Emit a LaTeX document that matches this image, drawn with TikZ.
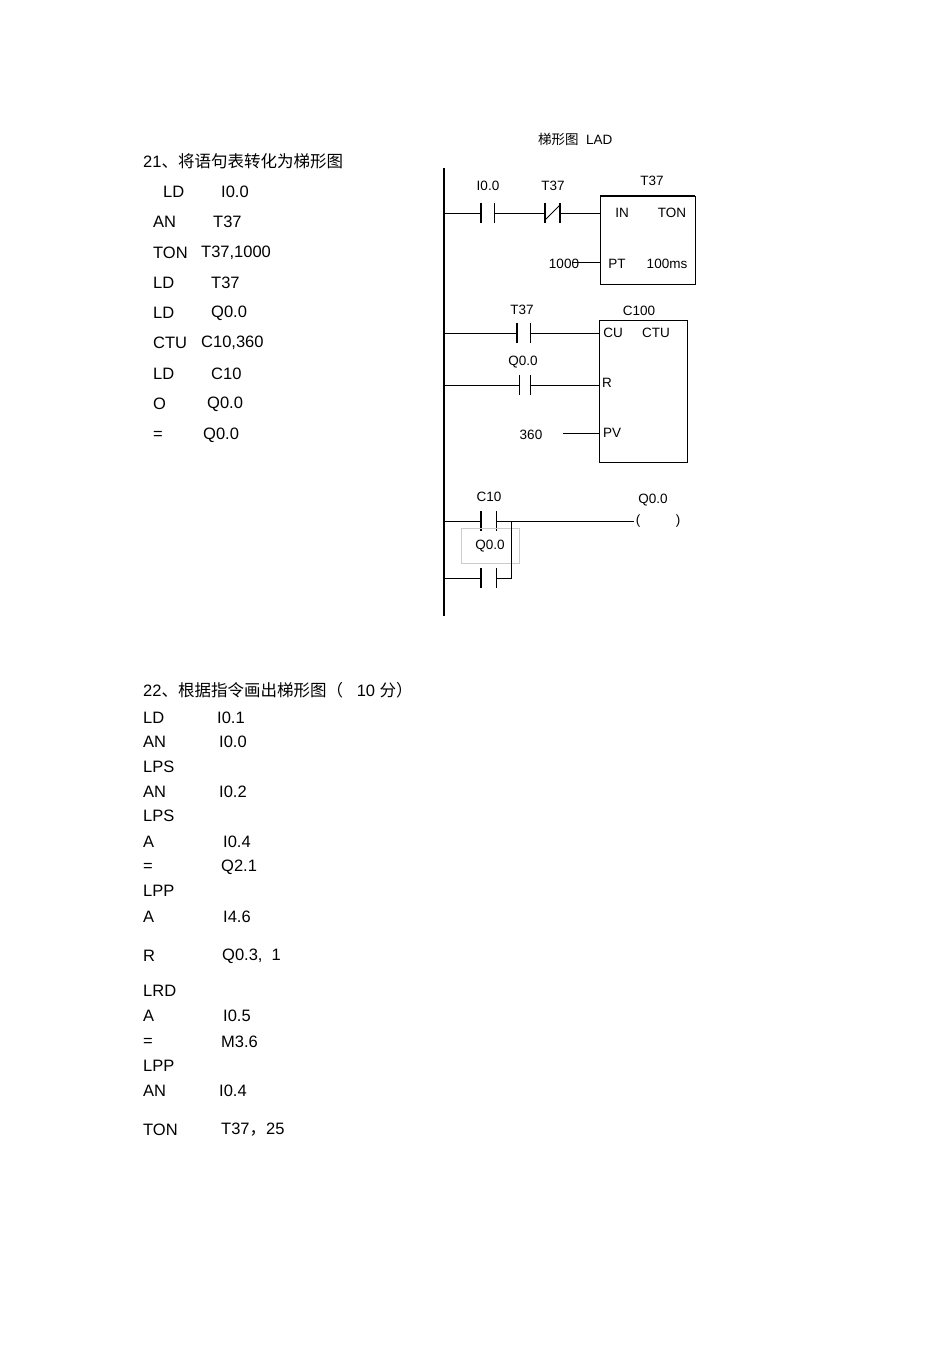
\documentclass[tikz,border=0pt]{standalone}
\usepackage{fontspec}
\setmainfont{Liberation Sans}
\newfontfamily\cjk{Noto Sans CJK SC}
\begin{document}
\begin{tikzpicture}[x=1pt,y=-1pt,
  t/.style={anchor=west,inner sep=0pt,font=\fontsize{16.5}{18}\selectfont},
  s/.style={inner sep=0pt,font=\fontsize{13.5}{15}\selectfont},
  w/.style={line width=0.8pt},
  tb/.style={line width=1.8pt}]
\useasboundingbox (0,0) rectangle (950,1345);
% left text 21
\node[t] (h21) at (143,161) {21{\cjk 、将语句表转化为梯形图}};
\foreach \m/\mx/\o/\ox/\y in {LD/163/I0.0/221/192, AN/153/T37/213/222, TON/153/{T37,1000}/201/253, LD/153/T37/211/283, LD/153/Q0.0/211/313, CTU/153/{C10,360}/201/343, LD/153/C10/211/374, O/153/Q0.0/207/404, =/153/Q0.0/203/435}
  {\node[t] at (\mx,\y) {\m}; \node[t] at (\ox,\y) {\o};}
\node[s,anchor=west] (lad) at (538,139) {{\cjk 梯形图}\ \ LAD};
% rail
\coordinate (rt) at (444,168); \coordinate (rb) at (444,616);
\draw[line width=1.1pt] (rt) -- (rb);
% rung 1
\draw[w] (444,213) -- (480,213);
\draw[tb] (481,203) -- (481,223);
\draw[w] (494,203) -- (494,223);
\draw[w] (494,213) -- (544,213);
\draw[tb] (545,203) -- (545,223);
\draw[tb] (560,203) -- (560,223);
\draw[w] (545,220) -- (560,205);
\draw[w] (560,213) -- (600,213);
\draw[w] (600,196) rectangle (695,284);
\draw[line width=1.4pt] (600,196) -- (695,196);
\node[s] (a1) at (488,186) {I0.0};
\node[s] (a2) at (553,186) {T37};
\node[s] (a3) at (652,181) {T37};
\node[s] at (622,213) {IN};
\node[s] at (672,213) {TON};
\node[s] at (617,264) {PT};
\node[s] at (667,264) {100ms};
\node[s] (n1000) at (564,264) {1000};
\draw[w] (572,262) -- (600,262);
% rung 2
\draw[w] (444,333) -- (516,333);
\draw[tb] (517,323) -- (517,343);
\draw[w] (530,323) -- (530,343);
\draw[w] (530,333) -- (600,333);
\draw[w] (599,320) rectangle (687,462);
\node[s] at (522,310) {T37};
\node[s] at (639,311) {C100};
\node[s] at (613,333) {CU};
\node[s] at (656,333) {CTU};
\draw[w] (444,385) -- (519,385);
\draw[w] (519,375) -- (519,395);
\draw[w] (530,375) -- (530,395);
\draw[w] (530,385) -- (600,385);
\node[s] at (523,362) {Q0.0};
\node[s] at (607,383) {R};
\node[s] at (531,435) {360};
\draw[w] (563,433) -- (600,433);
\node[s] at (612,433) {PV};
% rung 3
\draw[w] (444,521) -- (480,521);
\draw[tb] (481,511) -- (481,531);
\draw[w] (496,511) -- (496,531);
\draw[w] (496,521) -- (634,521);
\node[s] at (638,521) {(};
\node[s] at (678,521) {)};
\node[s] at (653,500) {Q0.0};
\node[s] at (489,497) {C10};
\draw[gray!40,line width=0.5pt] (461,528) rectangle (519,563);
\node[s] at (490,546) {Q0.0};
\draw[w] (444,578) -- (480,578);
\draw[tb] (481,568) -- (481,588);
\draw[w] (496,568) -- (496,588);
\draw[w] (496,578) -- (511,578) -- (511,521);
% section 22
\node[t] (h22) at (143,690) {22{\cjk 、根据指令画出梯形图（}\ \ \ 10 {\cjk 分）}};
\foreach \m/\o/\ox/\y in {LD/I0.1/217/718, AN/I0.0/219/742, LPS//0/767, AN/I0.2/219/792, LPS//0/816, A/I0.4/223/842, =/Q2.1/221/867, LPP//0/891, A/I4.6/223/917, R/{Q0.3,\ \ 1}/222/956, LRD//0/991, A/I0.5/223/1016, =/M3.6/221/1042, LPP//0/1066, AN/I0.4/219/1091, TON/{T37{\cjk ，}25}/221/1130}
  {\node[t] at (143,\y) {\m}; \node[t] at (\ox,\y) {\o};}
\end{tikzpicture}
\end{document}
